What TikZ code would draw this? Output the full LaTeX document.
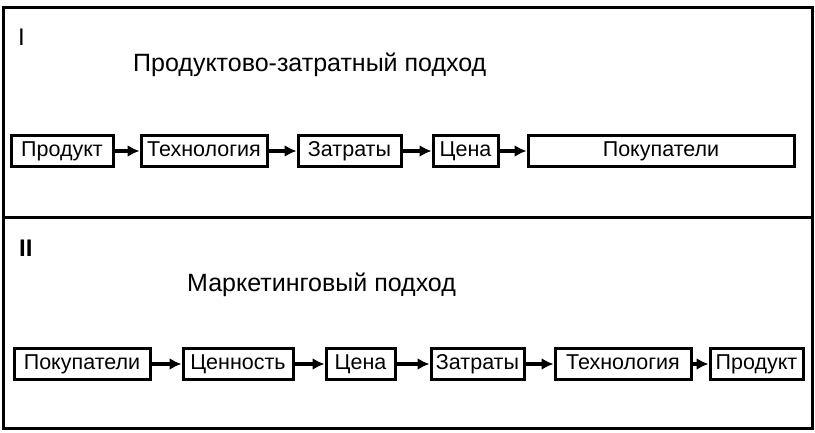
\documentclass[tikz,border=0pt]{standalone}
\usepackage{fontspec}
\setmainfont{Liberation Sans}
\usetikzlibrary{arrows.meta}
\begin{document}
\begin{tikzpicture}[x=1pt,y=-1pt,
  box/.style={draw,line width=3pt,minimum height=31pt,inner sep=0pt,text height=15pt,text depth=4pt,font=\fontsize{21.5}{23}\selectfont,anchor=center},
  flow/.style={line width=3.2pt,-{Latex[length=12pt,width=12pt]}},
  frame/.style={line width=3pt},
  title/.style={font=\fontsize{25}{27}\selectfont,anchor=west,inner sep=0pt},
  roman/.style={font=\fontsize{24}{26}\selectfont,anchor=west,inner sep=0pt}]
\useasboundingbox (0,0) rectangle (815,433);
% frame
\coordinate (tl) at (3,8);
\coordinate (br) at (812,428);
\coordinate (dl) at (3,218);
\coordinate (dr) at (812,218);
\draw[frame] (tl) rectangle (br);
\draw[frame] (dl) -- (dr);
% section I
\node[roman] (r1) at (18,37) {I};
\node[title] (t1) at (133,65) {Продуктово-затратный подход};
\node[box,minimum width=102pt] (a1) at (62,151) {Продукт};
\node[box,minimum width=126pt] (a2) at (204,151) {Технология};
\node[box,minimum width=103pt] (a3) at (349.5,151) {Затраты};
\node[box,minimum width=65pt] (a4) at (465.5,151) {Цена};
\node[box,minimum width=266pt] (a5) at (661,151) {Покупатели};
\draw[flow] (a1) -- (a2);
\draw[flow] (a2) -- (a3);
\draw[flow] (a3) -- (a4);
\draw[flow] (a4) -- (a5);
% section II
\node[roman,font=\fontsize{24}{26}\bfseries\selectfont] (r2) at (19,248) {II};
\node[title] (t2) at (187,285) {Маркетинговый подход};
\node[box,minimum width=136pt] (b1) at (82,364) {Покупатели};
\node[box,minimum width=110pt] (b2) at (238,364) {Ценность};
\node[box,minimum width=69pt] (b3) at (360.5,364) {Цена};
\node[box,minimum width=93pt] (b4) at (477.5,364) {Затраты};
\node[box,minimum width=136pt] (b5) at (623,364) {Технология};
\node[box,minimum width=93pt] (b6) at (756.5,364) {Продукт};
\draw[flow] (b1) -- (b2);
\draw[flow] (b2) -- (b3);
\draw[flow] (b3) -- (b4);
\draw[flow] (b4) -- (b5);
\draw[flow] (b5) -- (b6);
\end{tikzpicture}
\end{document}
